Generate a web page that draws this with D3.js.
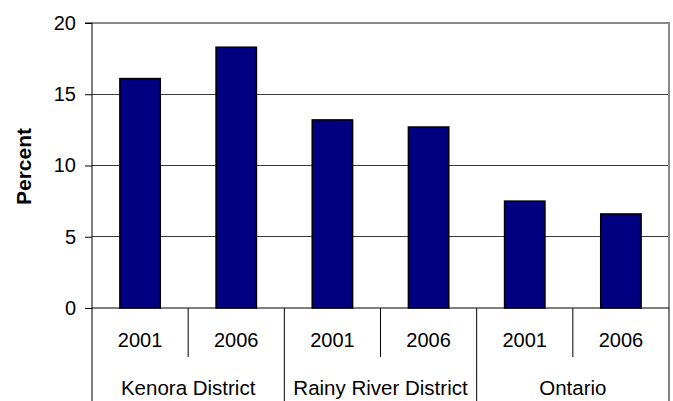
<!DOCTYPE html>
<html>
<head>
<meta charset="utf-8">
<script src="https://cdn.jsdelivr.net/npm/d3@7"></script>
<style>
  body { margin: 0; background: #fff; }
  svg { display: block; }
  text { font-family: "Liberation Sans", Arial, sans-serif; fill: #000; }
</style>
</head>
<body>
<svg id="chart" width="673" height="401"></svg>
<script>
const groups = ["Kenora District", "Rainy River District", "Ontario"];
const years = ["2001", "2006"];
const values = [16.1, 18.3, 13.2, 12.7, 7.5, 6.6];
const yTicks = [0, 5, 10, 15, 20];
const yLabel = "Percent";

const W = 673, H = 401;
const m = { left: 92, right: 4, top: 23, bottom: 93 };
const plotW = W - m.left - m.right;
const plotH = H - m.top - m.bottom;

const cats = [];
groups.forEach((g, gi) => years.forEach((yr, yi) => cats.push({ g, yr, gi, yi, v: values[gi * years.length + yi], key: g + "|" + yr })));

const svg = d3.select("#chart");
const x = d3.scaleBand().domain(cats.map(d => d.key)).range([m.left, m.left + plotW]).paddingInner(0.58).paddingOuter(0.29);
const y = d3.scaleLinear().domain([0, 20]).range([m.top + plotH, m.top]);
const step = x.step();
const x0 = m.left;

// gridlines
svg.append("g").selectAll("line").data(yTicks.filter(t => t > 0 && t < 20)).join("line")
  .attr("x1", m.left).attr("x2", m.left + plotW)
  .attr("y1", d => y(d)).attr("y2", d => y(d))
  .attr("stroke", "#3a3a3a").attr("stroke-width", 1).attr("shape-rendering", "crispEdges");

// plot border top/right (gray)
svg.append("path")
  .attr("d", `M${m.left},${y(20)}H${m.left + plotW}V${y(0)}`)
  .attr("fill", "none").attr("stroke", "#8a8a8a").attr("stroke-width", 2);

// bars
svg.append("g").selectAll("rect").data(cats).join("rect")
  .attr("x", d => x(d.key)).attr("width", x.bandwidth())
  .attr("y", d => y(d.v)).attr("height", d => y(0) - y(d.v))
  .attr("fill", "#000080").attr("stroke", "#000").attr("stroke-width", 1.5);

// y axis
const yAxis = d3.axisLeft(y).tickValues(yTicks).tickSize(7).tickPadding(9).tickFormat(d3.format("d"));
const ga = svg.append("g").attr("transform", `translate(${m.left},0)`).call(yAxis);
ga.select(".domain").attr("stroke", "#000").attr("d", `M-7,${y(20)}H0V${y(0)}`);
ga.selectAll(".tick line").attr("stroke", "#000");
ga.selectAll(".tick text").style("font-size", "20px").attr("font-family", "Liberation Sans, Arial, sans-serif");

// x axis line
svg.append("line").attr("x1", m.left).attr("x2", m.left + plotW).attr("y1", y(0)).attr("y2", y(0))
  .attr("stroke", "#000").attr("stroke-width", 1.2);

// category separators
const bounds = d3.range(cats.length + 1);
svg.append("g").selectAll("line").data(bounds).join("line")
  .attr("x1", i => x0 + i * step).attr("x2", i => x0 + i * step)
  .attr("y1", y(0))
  .attr("y2", i => (i % years.length === 0) ? H : y(0) + 49)
  .attr("stroke", "#000").attr("stroke-width", 1);

// year labels
svg.append("g").selectAll("text").data(cats).join("text")
  .attr("x", d => x(d.key) + x.bandwidth() / 2).attr("y", y(0) + 32)
  .attr("dy", "0.35em").attr("text-anchor", "middle").style("font-size", "20px")
  .text(d => d.yr);

// group labels
svg.append("g").selectAll("text").data(groups).join("text")
  .attr("x", (d, i) => x0 + (i * years.length + years.length / 2) * step).attr("y", y(0) + 80)
  .attr("dy", "0.35em").attr("text-anchor", "middle").style("font-size", "20.5px")
  .text(d => d);

// y label
svg.append("text").attr("transform", `translate(31,${m.top + plotH / 2 + 1}) rotate(-90)`)
  .attr("text-anchor", "middle").style("font-size", "21px").style("font-weight", "bold")
  .text(yLabel);
</script>
</body>
</html>
